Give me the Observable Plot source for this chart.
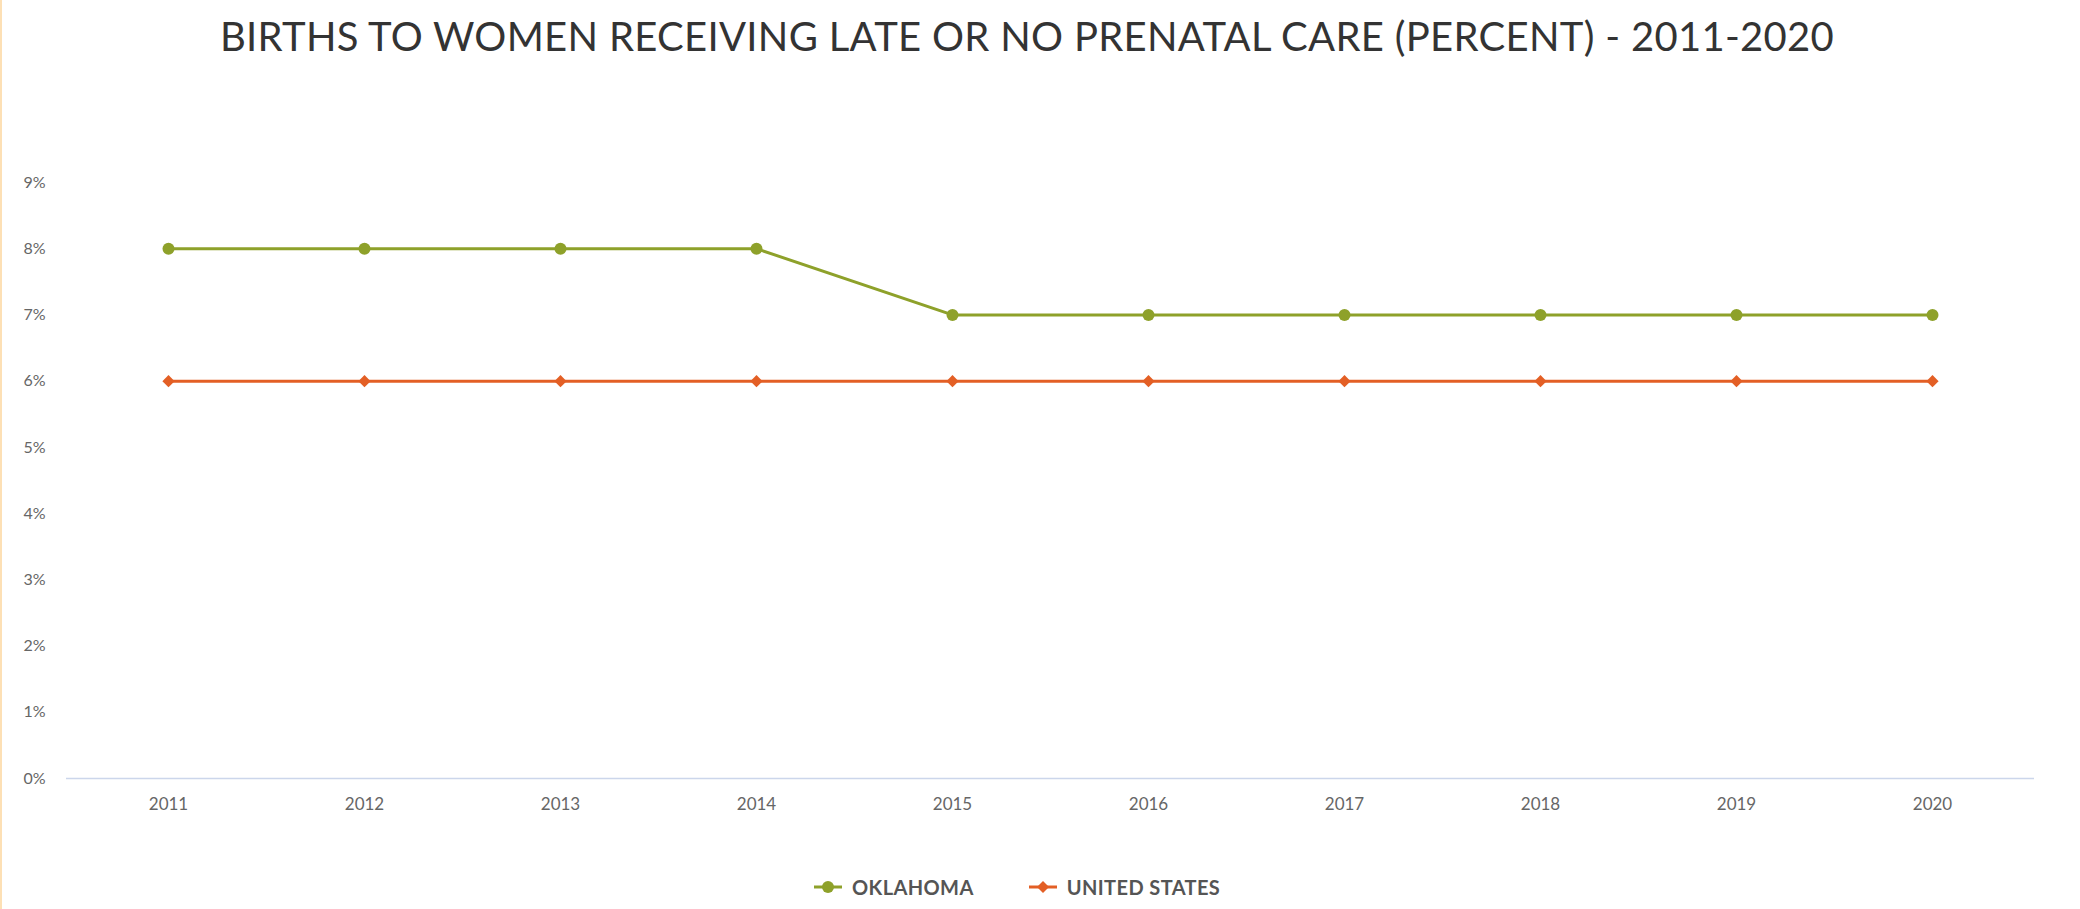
<!DOCTYPE html>
<html><head><meta charset="utf-8">
<script src="https://cdn.jsdelivr.net/npm/d3@7"></script>
<script src="https://cdn.jsdelivr.net/npm/@observablehq/plot@0.6"></script>
<style>
html,body{margin:0;padding:0;background:#fff;width:2080px;height:909px;overflow:hidden;position:relative;font-family:Lato,"Open Sans",sans-serif;}
#border{position:absolute;left:0;top:0;width:2px;height:909px;background:#fde0b5;}
#title{position:absolute;left:-13px;width:2080px;top:12px;text-align:center;font-size:40px;color:#333;font-family:Lato,sans-serif;letter-spacing:0.3px;}
#chart{position:absolute;left:0;top:100px;}
#legend{position:absolute;left:814px;top:875px;display:flex;gap:55px;font-weight:bold;font-size:20px;color:#555;font-family:Lato,sans-serif;letter-spacing:0.4px;}
#legend .item{display:flex;align-items:center;gap:10px;}
</style></head>
<body>
<div id="border"></div>
<div id="title">BIRTHS TO WOMEN RECEIVING LATE OR NO PRENATAL CARE (PERCENT) - 2011-2020</div>
<div id="chart"></div>
<div id="legend"></div>
<script>
const years = ["2011","2012","2013","2014","2015","2016","2017","2018","2019","2020"];
const oklahoma = [8,8,8,8,7,7,7,7,7,7];
const unitedStates = [6,6,6,6,6,6,6,6,6,6];
const yTicks = [0,1,2,3,4,5,6,7,8,9];
const seriesNames = ["OKLAHOMA","UNITED STATES"];
const seriesColors = ["#8ea12a","#e35f25"];

const rows = [];
years.forEach((y,i)=>{
  rows.push({year:y, value:oklahoma[i], series:seriesNames[0]});
  rows.push({year:y, value:unitedStates[i], series:seriesNames[1]});
});
const ok = rows.filter(d=>d.series===seriesNames[0]);
const us = rows.filter(d=>d.series===seriesNames[1]);

const chart = Plot.plot({
  width:2080, height:740,
  marginLeft:66, marginRight:46, marginTop:82, marginBottom:62,
  style:{fontFamily:"Lato, sans-serif", background:"transparent"},
  x:{type:"point", domain:years, padding:0.5, label:null},
  y:{domain:[0,9], label:null},
  marks:[
    Plot.ruleY([0],{stroke:"#ccd6eb", strokeWidth:1.5}),
    Plot.axisY({ticks:yTicks, tickFormat:d=>d+"%", tickSize:0, tickPadding:21, fontSize:16, fill:"#666", label:null}),
    Plot.axisX({tickSize:0, tickPadding:19, fontSize:17, fill:"#666", label:null, style:{letterSpacing:"2px"}}),
    Plot.line(us,{x:"year", y:"value", stroke:seriesColors[1], strokeWidth:3}),
    Plot.line(ok,{x:"year", y:"value", stroke:seriesColors[0], strokeWidth:3}),
    Plot.dot(us,{x:"year", y:"value", fill:seriesColors[1], symbol:"diamond2", r:5.5}),
    Plot.dot(ok,{x:"year", y:"value", fill:seriesColors[0], symbol:"circle", r:6}),
  ]
});
document.getElementById("chart").appendChild(chart);

const legend = document.getElementById("legend");
seriesNames.forEach((n,i)=>{
  const item = document.createElement("div");
  item.className="item";
  const sym = i===0
    ? `<circle cx="14" cy="9" r="6" fill="${seriesColors[i]}"/>`
    : `<path d="M14 3 L20 9 L14 15 L8 9 Z" fill="${seriesColors[i]}"/>`;
  item.innerHTML = `<svg width="28" height="18"><line x1="0" x2="28" y1="9" y2="9" stroke="${seriesColors[i]}" stroke-width="3"/>${sym}</svg><span>${n}</span>`;
  legend.appendChild(item);
});
</script>
</body></html>
